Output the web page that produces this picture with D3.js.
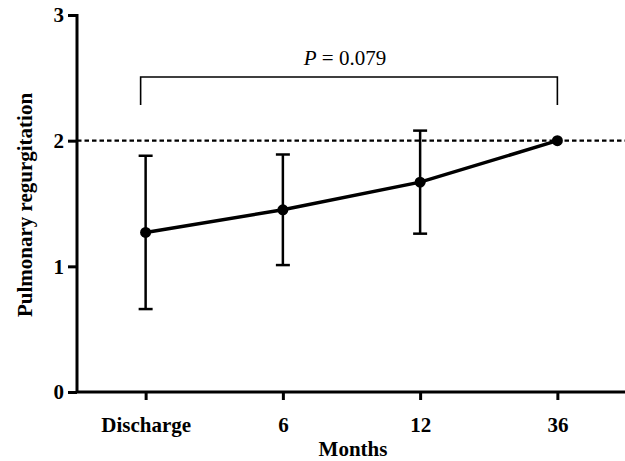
<!DOCTYPE html>
<html lang="en">
<head>
    <meta charset="UTF-8">
    <title>Pulmonary regurgitation</title>
    <script src="https://d3js.org/d3.v7.min.js"></script>
    <style>
        body { margin: 0; background: #fff; }
        svg text { font-family: "Liberation Serif", "Times New Roman", Times, serif !important; }
    </style>
</head>
<body>
    <div id="chart"></div>
    <script>
        const categories = ["Discharge", "6", "12", "36"];
        const means = [1.27, 1.45, 1.67, 2.0];
        const sds = [0.61, 0.44, 0.41, 0];
        const yTicks = [0, 1, 2, 3];
        const refLine = 2;
        const pLabel = "0.079";

        const width = 625, height = 461;
        const plotLeft = 77, plotRight = 626, plotTop = 15, plotBottom = 392;

        const svg = d3.select("#chart").append("svg")
            .attr("width", width)
            .attr("height", height)
            .style("display", "block");

        const x = d3.scalePoint()
            .domain(categories)
            .range([plotLeft, plotRight])
            .padding(0.5);

        const y = d3.scaleLinear()
            .domain([0, 3])
            .range([plotBottom, plotTop]);

        // reference line
        svg.append("line")
            .attr("x1", plotLeft).attr("x2", width)
            .attr("y1", y(refLine)).attr("y2", y(refLine))
            .attr("stroke", "#000")
            .attr("stroke-width", 2.2)
            .attr("stroke-dasharray", "4.5,3");

        // axes
        const yAxis = svg.append("g")
            .attr("transform", `translate(${plotLeft},0)`)
            .call(d3.axisLeft(y).tickValues(yTicks).tickFormat(d3.format("d")).tickSize(9).tickSizeOuter(0));
        const xAxis = svg.append("g")
            .attr("transform", `translate(0,${plotBottom})`)
            .call(d3.axisBottom(x).tickSize(8).tickSizeOuter(0));

        [xAxis, yAxis].forEach(g => {
            g.select(".domain").attr("stroke-width", 3);
            g.selectAll(".tick line").attr("stroke-width", 3);
            g.selectAll(".tick text")
                .attr("font-size", 21)
                .attr("font-weight", "bold")
                .attr("fill", "#000");
        });
        xAxis.select(".domain").attr("d", `M${plotLeft},0H${width}`);
        xAxis.selectAll(".tick text").attr("y", 40).attr("dy", null);
        yAxis.select(".domain").attr("d", `M0,${plotBottom}V${plotTop - 1}`);
        yAxis.selectAll(".tick text").attr("x", -13).attr("dy", "0.33em");

        // axis titles
        svg.append("text")
            .attr("x", 353)
            .attr("y", 456)
            .attr("text-anchor", "middle")
            .attr("font-size", 21)
            .attr("font-weight", "bold")
            .text("Months");

        svg.append("text")
            .attr("transform", `translate(32,205) rotate(-90)`)
            .attr("text-anchor", "middle")
            .attr("font-size", 21)
            .attr("font-weight", "bold")
            .text("Pulmonary regurgitation");

        // error bars
        const capW = 7;
        const bars = svg.append("g")
            .selectAll("g")
            .data(categories.filter((c, i) => sds[i] > 0))
            .join("g");
        bars.each(function (c) {
            const i = categories.indexOf(c);
            const g = d3.select(this);
            const cx = x(c), lo = y(means[i] - sds[i]), hi = y(means[i] + sds[i]);
            g.append("line").attr("x1", cx).attr("x2", cx).attr("y1", lo).attr("y2", hi);
            g.append("line").attr("x1", cx - capW).attr("x2", cx + capW).attr("y1", lo).attr("y2", lo);
            g.append("line").attr("x1", cx - capW).attr("x2", cx + capW).attr("y1", hi).attr("y2", hi);
        });
        bars.selectAll("line").attr("stroke", "#000").attr("stroke-width", 2.5);

        // mean line
        svg.append("path")
            .datum(categories)
            .attr("fill", "none")
            .attr("stroke", "#000")
            .attr("stroke-width", 3.5)
            .attr("d", d3.line().x(d => x(d)).y((d, i) => y(means[i])));

        svg.append("g")
            .selectAll("circle")
            .data(categories)
            .join("circle")
            .attr("cx", d => x(d))
            .attr("cy", (d, i) => y(means[i]))
            .attr("r", 5.5)
            .attr("fill", "#000");

        // significance bracket
        const bx0 = x(categories[0]) - 5, bx1 = x(categories[3]);
        svg.append("path")
            .attr("fill", "none")
            .attr("stroke", "#000")
            .attr("stroke-width", 1.6)
            .attr("d", `M${bx0},105V77H${bx1}V105`);

        const pText = svg.append("text")
            .attr("x", 345)
            .attr("y", 65)
            .attr("text-anchor", "middle")
            .attr("font-size", 21);
        pText.append("tspan").attr("font-style", "italic").text("P");
        pText.append("tspan").text(" = " + pLabel);
    </script>
</body>
</html>
